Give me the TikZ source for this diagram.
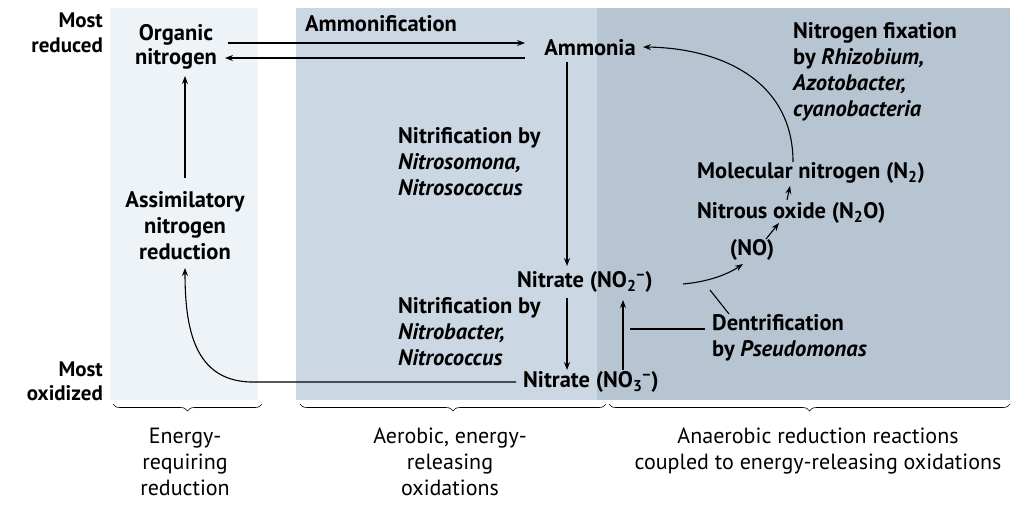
\documentclass[tikz,border=0pt]{standalone}
\usepackage{fontspec}
\setmainfont{PT Sans}
\usetikzlibrary{decorations.pathreplacing,arrows.meta}
\definecolor{pA}{HTML}{EEF3F8}
\definecolor{pB}{HTML}{CBD7E2}
\definecolor{pC}{HTML}{B7C5D2}
\begin{document}
\begin{tikzpicture}[x=1pt,y=-1pt,
  lbl/.style={font=\fontsize{22.5}{25}\selectfont\bfseries,inner sep=0pt},
  lleft/.style={lbl,anchor=west,align=left},
  ml/.style={font=\fontsize{22.5}{26}\selectfont\bfseries},
  cat/.style={font=\fontsize{22}{26}\selectfont,align=center,anchor=north,inner sep=0pt},
  arr/.style={-{Stealth[length=8pt,width=6pt]},line width=1.1pt},
  ln/.style={line width=1.1pt},
  br/.style={decorate,decoration={brace,mirror,amplitude=7pt},line width=0.6pt}]
\useasboundingbox (0,0) rectangle (1024,507);
\fill[white] (0,0) rectangle (1024,507);
\fill[pA] (110,8) rectangle (258,400);
\fill[pB] (296,8) rectangle (597,400);
\fill[pC] (597,8) rectangle (1010,400);
% side labels
\node[lbl,anchor=east,align=right,font=\fontsize{21}{25}\selectfont\bfseries] (red) at (103,33) {Most\\reduced};
\node[lbl,anchor=east,align=right,font=\fontsize{21}{24}\selectfont\bfseries] (oxi) at (103,381) {Most\\oxidized};
% nodes
\node[lbl,align=center,font=\fontsize{22.5}{24}\selectfont\bfseries] (org) at (176,47) {Organic\\nitrogen};
\node[lbl] (amf) at (381,24) {Ammonification};
\node[lbl] (amm) at (590,48) {Ammonia};
\node[lleft,ml] (fix) at (793,72) {Nitrogen fixation\\by \textit{Rhizobium,}\\\textit{Azotobacter,}\\\textit{cyanobacteria}};
\node[lleft,ml] (nso) at (398,162) {Nitrification by\\\textit{Nitrosomona,}\\\textit{Nitrosococcus}};
\node[lleft] (n2) at (697,173) {Molecular nitrogen (N\textsubscript{2})};
\node[lleft] (n2o) at (697,213) {Nitrous oxide (N\textsubscript{2}O)};
\node[lbl] (no) at (752,250) {(NO)};
\node[lleft] (no2) at (517,282) {Nitrate (NO\textsubscript{2}\textsuperscript{−})};
\node[lleft,ml] (nba) at (398,332) {Nitrification by\\\textit{Nitrobacter,}\\\textit{Nitrococcus}};
\node[lleft] (no3) at (523,382) {Nitrate (NO\textsubscript{3}\textsuperscript{−})};
\node[lleft,ml] (den) at (712,338) {Dentrification\\by \textit{Pseudomonas}};
\node[lbl,align=center,ml] (ass) at (185,226) {Assimilatory\\nitrogen\\reduction};
% connectors
\coordinate (a1) at (228,43); \coordinate (a2) at (525,43);
\coordinate (b1) at (525,58); \coordinate (b2) at (225,58);
\draw[arr] (a1) -- (a2);
\draw[arr] (b1) -- (b2);
\draw[arr] (567,62) -- (567,266);
\draw[arr] (567,298) -- (567,370);
\draw[arr] (623,370) -- (623,300);
\draw[ln] (630,329) -- (705,329);
\draw[ln] (710,290) -- (729,314);
\draw[arr] (683,284) .. controls (705,282) and (725,276) .. (743,264);
\draw[arr] (766,239) -- (779,223);
\draw[arr] (787,200) -- (790,186);
\draw[arr] (793,162) .. controls (793,80) and (720,48) .. (643,47);
\draw[arr] (185,178) -- (185,76);
\draw[arr] (516,382) -- (250,382) .. controls (195,380) and (185,330) .. (185,268);
% braces
\draw[br] (113,404) -- (262,404);
\draw[br] (300,404) -- (606,404);
\draw[br] (609,404) -- (1010,404);
\node[cat] (c1) at (185,428) {Energy-\\requiring\\reduction};
\node[cat] (c2) at (450,428) {Aerobic, energy-\\releasing\\oxidations};
\node[cat] (c3) at (818,428) {Anaerobic reduction reactions\\coupled to energy-releasing oxidations};
\end{tikzpicture}
\end{document}
